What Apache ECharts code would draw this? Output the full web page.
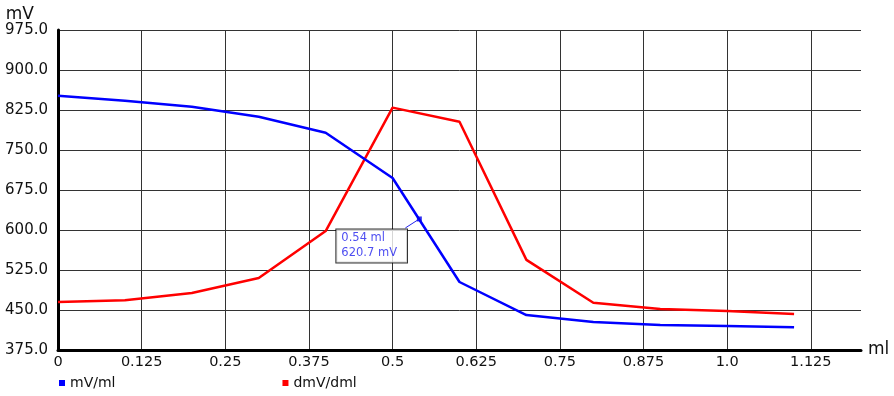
<!DOCTYPE html>
<html><head><meta charset="utf-8">
<script src="https://cdn.jsdelivr.net/npm/echarts@6/dist/echarts.min.js"></script>
<style>html,body{margin:0;padding:0;background:#fff}#c{width:894px;height:396px}</style>
</head><body><div id="c"></div>
<script>
const xValues = [0, 0.1, 0.2, 0.3, 0.4, 0.5, 0.6, 0.7, 0.8, 0.9, 1.0, 1.1];
const mvPerMl = [851.5, 842.5, 831, 812.5, 782.5, 697.5, 502.5, 440.5, 427.5, 422, 420, 417.5];
const dmvPerDml = [465, 468.5, 482, 510, 598, 829.5, 803, 544, 463.5, 452, 448, 442.5];
const cursorPoint = [0.54, 620.7];
const xTickLabels = ['0', '0.125', '0.25', '0.375', '0.5', '0.625', '0.75', '0.875', '1.0', '1.125'];
const yTickLabels = ['375.0', '450.0', '525.0', '600.0', '675.0', '750.0', '825.0', '900.0', '975.0'];
const seriesNames = ['mV/ml', 'dmV/dml'];

const FONT = 'DejaVu Sans';
const chart = echarts.init(document.getElementById('c'));
const xColors = xTickLabels.map(() => '#333').concat(['transparent']);
chart.setOption({
  animation: false,
  textStyle: {fontFamily: FONT},
  grid: {left: 58, top: 30, right: 33, bottom: 46, containLabel: false},
  legend: {
    data: seriesNames, left: 54, bottom: 1, icon: 'rect', itemWidth: 6, itemHeight: 6,
    itemGap: 167, textStyle: {fontFamily: FONT, fontSize: 14, color: '#111'}
  },
  xAxis: {
    type: 'value', min: 0, max: 1.2, interval: 0.125,
    name: 'ml', nameLocation: 'end', nameGap: 7,
    nameTextStyle: {fontFamily: FONT, fontSize: 17, color: '#111', verticalAlign: 'middle'},
    axisLine: {lineStyle: {color: '#000', width: 3}},
    axisTick: {show: false},
    axisLabel: {
      fontFamily: FONT, fontSize: 14.5, color: '#111', margin: 5, showMaxLabel: false,
      formatter: v => { const i = Math.round(v / 0.125); return (Math.abs(i * 0.125 - v) < 1e-9 && xTickLabels[i] !== undefined) ? xTickLabels[i] : ''; }
    },
    splitLine: {show: true, lineStyle: {color: xColors, width: 1}}
  },
  yAxis: {
    type: 'value', min: 375, max: 975, interval: 75,
    name: 'mV', nameLocation: 'end', nameGap: 1,
    nameTextStyle: {fontFamily: FONT, fontSize: 17, color: '#111', align: 'right', padding: [0, 24, 0, 0]},
    axisLine: {show: true, lineStyle: {color: '#000', width: 3}},
    axisTick: {show: false},
    axisLabel: {
      fontFamily: FONT, fontSize: 15, color: '#111', margin: 10,
      formatter: v => yTickLabels[Math.round((v - 375) / 75)]
    },
    splitLine: {show: true, lineStyle: {color: '#333', width: 1}}
  },
  series: [
    {
      name: seriesNames[0], type: 'line', data: xValues.map((x, i) => [x, mvPerMl[i]]),
      showSymbol: false, itemStyle: {color: '#0000ff'}, lineStyle: {color: '#0000ff', width: 2.5}, z: 3
    },
    {
      name: seriesNames[1], type: 'line', data: xValues.map((x, i) => [x, dmvPerDml[i]]),
      showSymbol: false, itemStyle: {color: '#ff0000'}, lineStyle: {color: '#ff0000', width: 2.5}, z: 2
    },
    {
      name: 'cursor', type: 'scatter', data: [cursorPoint], symbol: 'rect', symbolSize: 5,
      itemStyle: {color: '#0000ee'}, z: 5,
      label: {
        show: true, position: 'inside',
        formatter: () => cursorPoint[0] + ' ml\n' + cursorPoint[1] + ' mV',
        fontFamily: FONT, fontSize: 11.5, lineHeight: 15, color: '#2020ee', align: 'left',
        backgroundColor: '#fff', borderColor: '#000', borderWidth: 1, padding: [2, 10, 1, 5]
      },
      labelLayout: {dx: -83, dy: 27}
    }
  ]
});
// leader line from the cursor point to the label box corner
const p = chart.convertToPixel({seriesIndex: 2}, cursorPoint);
chart.setOption({
  graphic: [{
    type: 'line', z: 4, silent: true,
    shape: {x1: p[0], y1: p[1], x2: p[0] - 14, y2: p[1] + 9},
    style: {stroke: '#2020ee', lineWidth: 1}
  }]
});
</script></body></html>
